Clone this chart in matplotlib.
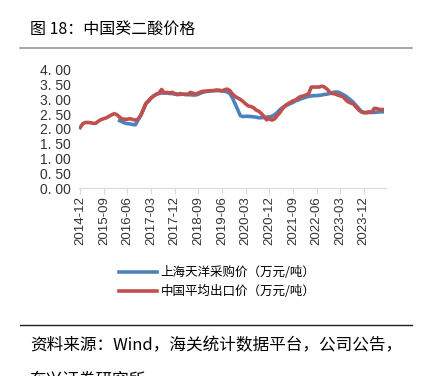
import matplotlib
matplotlib.use("Agg")
import matplotlib.pyplot as plt
import numpy as np

plt.rcParams['font.family'] = ['Noto Sans CJK SC', 'DejaVu Sans']

# monthly, 2014-12 .. 2024-07
start_year, start_month = 2014, 12
red = [2.05, 2.18, 2.22, 2.22, 2.21, 2.19, 2.20, 2.27, 2.32, 2.35,
       2.38, 2.43, 2.48, 2.52, 2.48, 2.40, 2.34, 2.33, 2.33, 2.35,
       2.32, 2.30, 2.33, 2.45, 2.65, 2.87, 2.95, 3.05, 3.12, 3.18,
       3.22, 3.34, 3.22, 3.24, 3.22, 3.24, 3.20, 3.16, 3.20, 3.18,
       3.17, 3.18, 3.24, 3.21, 3.18, 3.22, 3.26, 3.28, 3.28, 3.29,
       3.30, 3.30, 3.32, 3.31, 3.28, 3.33, 3.35, 3.30, 3.18, 3.10,
       3.05, 3.00, 2.93, 2.85, 2.78, 2.76, 2.72, 2.64, 2.60, 2.52,
       2.42, 2.31, 2.35, 2.30, 2.34, 2.45, 2.55, 2.68, 2.78, 2.85,
       2.90, 2.95, 2.98, 3.05, 3.10, 3.12, 3.15, 3.20, 3.42, 3.42,
       3.42, 3.42, 3.45, 3.42, 3.35, 3.25, 3.20, 3.19, 3.15, 3.12,
       3.10, 3.00, 2.92, 2.88, 2.85, 2.75, 2.65, 2.58, 2.55, 2.56,
       2.58, 2.57, 2.70, 2.69, 2.66, 2.66]
blue = [None] * 15 + [
       2.28, 2.24, 2.20, 2.18, 2.17, 2.15, 2.14, 2.30, 2.45, 2.65,
       2.85, 2.95, 3.05, 3.12, 3.17, 3.20, 3.22, 3.22, 3.22, 3.20,
       3.20, 3.18, 3.18, 3.17, 3.18, 3.17, 3.16, 3.16, 3.15, 3.15,
       3.18, 3.22, 3.25, 3.27, 3.28, 3.29, 3.30, 3.30, 3.30, 3.30,
       3.28, 3.25, 3.20, 3.05, 2.85, 2.65, 2.45, 2.42, 2.43, 2.43,
       2.42, 2.41, 2.40, 2.38, 2.38, 2.39, 2.40, 2.41, 2.43, 2.48,
       2.55, 2.65, 2.72, 2.78, 2.82, 2.86, 2.90, 2.95, 2.98, 3.02,
       3.05, 3.08, 3.10, 3.12, 3.13, 3.13, 3.14, 3.15, 3.17, 3.18,
       3.20, 3.23, 3.25, 3.25, 3.22, 3.17, 3.12, 3.05, 2.98, 2.90,
       2.80, 2.70, 2.60, 2.56, 2.55, 2.56, 2.56, 2.56, 2.57, 2.58,
       2.58]
labels_series = ['上海天洋采购价（万元/吨）', '中国平均出口价（万元/吨）']
y_ticks = [0, 0.5, 1, 1.5, 2, 2.5, 3, 3.5, 4]

n = len(red)
x = np.arange(n)
month_labels = []
for i in range(n):
    mm = start_month - 1 + i
    month_labels.append(f"{start_year + mm // 12}-{mm % 12 + 1:02d}")

fig = plt.figure(figsize=(4.22, 3.76), dpi=100)

fig.text(0.071, 0.92, '图 18：中国癸二酸价格', fontsize=11.5, va='center', ha='left')
fig.add_artist(plt.Line2D([0.047, 0.976], [0.872, 0.872], color='#999999', lw=1.2))

ax = fig.add_axes([0.187, 0.5, 0.728, 0.314])
blue_arr = np.array([np.nan if v is None else v for v in blue])
ax.plot(x, blue_arr, color='#4F81BD', lw=2.6, label=labels_series[0])
ax.plot(x, red, color='#C0504D', lw=2.6, label=labels_series[1])

ax.set_xlim(-0.5, n + 0.5)
ax.set_ylim(0, 4)
ax.set_yticks(y_ticks)
ax.set_yticklabels([f"{v:.2f}".replace('.', '. ') for v in y_ticks],
                   fontsize=10, family='Liberation Sans', color='#333333')
tick_pos = list(range(0, n, 9))
ax.set_xticks(tick_pos)
ax.set_xticklabels([month_labels[i] for i in tick_pos], rotation=90,
                   fontsize=9.5, family='Liberation Sans', color='#333333')
for s in ['top', 'right', 'left']:
    ax.spines[s].set_visible(False)
ax.spines['bottom'].set_color('#d9d9d9')
ax.tick_params(axis='y', length=0, pad=6)
ax.tick_params(axis='x', length=4, color='#d9d9d9', pad=2)

fig.legend(loc='center', bbox_to_anchor=(0.515, 0.25), frameon=False,
           fontsize=9, handlelength=3.0, handletextpad=0.3, labelspacing=0.45)

fig.add_artist(plt.Line2D([0.047, 0.976], [0.135, 0.135], color='#222222', lw=1.0))
fig.text(0.071, 0.08, '资料来源：Wind，海关统计数据平台，公司公告，', fontsize=12,
         va='center', ha='left')
fig.text(0.071, -0.012, '东兴证券研究所', fontsize=12, va='center', ha='left')

fig.savefig('out.png', dpi=100)
